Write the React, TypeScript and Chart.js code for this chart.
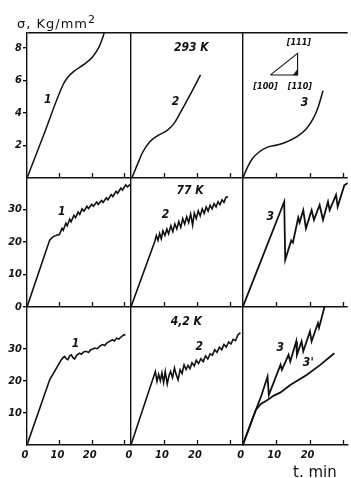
import React, { useEffect, useRef } from 'react';
import { Chart, registerables } from 'chart.js';

Chart.register(...registerables);

// ---------- data (t in min, sigma in Kg/mm^2) ----------
// 293 K
const T1_293 = [0, 5.5, 11.1, 12.6, 14.7, 17.7, 20.3, 22.3, 23.5, 24.2];
const S1_293 = [0, 2.83, 5.72, 6.2, 6.6, 7.0, 7.46, 8.08, 8.7, 9.2];
const T2_293 = [0.3, 2.1, 3.6, 5.6, 8.1, 11.1, 13.1, 14.6, 17.1, 21.1];
const S2_293 = [0, 0.9, 1.6, 2.2, 2.6, 2.95, 3.36, 3.88, 4.8, 6.34];
const T3_293 = [0, 1.5, 2.9, 4.9, 7.4, 10.3, 13.2, 16.2, 19.1, 21.1, 22.6, 24.0];
const S3_293 = [0, 0.7, 1.2, 1.6, 1.9, 2.03, 2.23, 2.54, 3.05, 3.67, 4.39, 5.37];

// 77 K
const T1_77 = [0, 7.0, 8.0, 9.5, 10.0, 10.8, 11.2, 12.0, 12.4, 13.2, 13.6, 14.5, 15.0, 15.8, 16.3, 17.0, 17.6, 18.5, 19.0, 20.0, 20.5, 21.5, 22.0, 23.0, 23.5, 24.5, 25.0, 26.0, 26.5, 27.5, 28.0, 29.0, 29.5, 30.5, 31.0, 32.0];
const S1_77 = [0, 20.6, 21.6, 22.2, 22.3, 24.2, 23.6, 25.8, 25.0, 27.0, 26.2, 28.2, 27.5, 29.2, 28.5, 30.2, 29.5, 31.0, 30.3, 31.6, 31.0, 32.3, 31.6, 32.8, 32.2, 33.6, 33.0, 34.6, 34.0, 35.6, 35.0, 36.6, 36.0, 37.6, 37.0, 37.8];
const T2_77 = [0, 7.2, 7.7, 8.2, 8.7, 9.2, 9.7, 10.3, 10.9, 11.4, 12.1, 12.7, 13.3, 13.9, 14.5, 15.1, 15.7, 16.3, 16.9, 17.5, 18.1, 18.7, 19.2, 19.8, 20.4, 21.0, 21.6, 22.2, 22.8, 23.4, 24.0, 24.6, 25.2, 25.8, 26.4, 27.0, 27.6, 28.2, 28.8, 29.4];
const S2_77 = [0, 20.1, 22.0, 20.5, 22.6, 21.0, 23.4, 22.0, 24.0, 22.5, 25.0, 23.2, 25.6, 24.0, 26.3, 24.5, 27.2, 25.5, 27.8, 26.0, 28.6, 25.2, 28.9, 27.2, 29.6, 28.0, 30.2, 28.8, 30.8, 29.5, 31.3, 30.2, 31.8, 30.8, 32.4, 31.5, 33.0, 32.2, 33.8, 33.9];
const T3_77 = [0, 12.4, 12.7, 14.5, 15.0, 16.6, 17.0, 18.1, 18.9, 20.6, 21.3, 23.0, 24.0, 25.5, 26.0, 27.9, 28.4, 30.4, 31.6];
const S3_77 = [0, 32.4, 14.5, 20.5, 19.8, 27.5, 26.0, 29.8, 24.2, 29.8, 26.8, 31.4, 26.8, 32.4, 29.8, 34.5, 30.9, 37.5, 38.2];

// 4,2 K
const T1_4 = [0, 7.0, 10.6, 11.2, 11.6, 12.2, 12.6, 13.2, 13.7, 14.2, 14.7, 15.4, 16.2, 16.8, 17.5, 18.3, 19.0, 19.6, 20.3, 21.0, 21.7, 22.5, 23.3, 24.0, 24.7, 25.5, 26.4, 27.0, 27.7, 28.4, 29.2, 30.0, 30.4];
const S1_4 = [0, 20.3, 26.6, 27.3, 27.6, 26.8, 26.6, 27.8, 28.1, 27.2, 26.8, 28.0, 28.6, 28.3, 29.0, 29.2, 28.8, 29.6, 29.9, 30.2, 30.0, 30.8, 31.3, 31.0, 31.8, 32.3, 32.8, 32.4, 33.3, 33.0, 33.8, 34.4, 34.2];
const T2_4 = [0, 7.4, 7.9, 8.4, 8.9, 9.4, 9.9, 10.4, 11.0, 11.5, 12.0, 12.6, 13.2, 13.7, 14.3, 14.9, 15.5, 16.1, 16.7, 17.3, 17.9, 18.5, 19.2, 19.8, 20.5, 21.2, 21.9, 22.6, 23.3, 24.0, 24.7, 25.4, 26.1, 26.8, 27.5, 28.2, 28.9, 29.6, 30.3, 31.0, 31.7, 32.4, 33.2];
const S2_4 = [0, 22.9, 19.8, 22.0, 20.0, 22.5, 19.5, 22.9, 19.0, 21.5, 22.9, 21.0, 24.0, 22.0, 20.3, 23.4, 22.3, 25.0, 23.5, 24.8, 23.8, 25.6, 24.6, 26.4, 25.4, 26.9, 26.0, 27.8, 26.8, 28.4, 28.0, 29.7, 28.9, 30.5, 29.7, 31.3, 30.5, 32.1, 31.5, 32.9, 32.5, 34.3, 35.0];
const T3_4 = [0, 3.9, 5.6, 7.4, 7.8, 11.3, 11.7, 13.7, 14.2, 16.0, 16.2, 17.6, 18.1, 20.1, 20.6, 22.5, 22.8, 24.0, 24.6];
const S3_4 = [0, 10.9, 15.5, 21.3, 15.6, 25.0, 23.4, 28.1, 26.0, 32.3, 28.1, 32.3, 29.2, 35.4, 32.3, 38.0, 36.5, 41.2, 43.7];
const T3P_4 = [0, 3.9, 5.4, 7.4, 9.3, 11.3, 14.2, 19.1, 23.0, 27.4];
const S3P_4 = [0, 10.9, 12.8, 14.0, 15.4, 16.4, 18.7, 21.8, 24.8, 28.6];

// crystal orientation triangle (inset, 293 K / column 3)
const TRI_T = [8.3, 16.4, 16.4, 8.3];
const TRI_S = [6.34, 6.34, 7.67, 6.34];
const CORNER_T = [15.2, 16.4, 16.4, 15.2];
const CORNER_S = [6.34, 6.34, 6.68, 6.34];

// axes
const X_MAX = [32.1, 33.9, 31.4];
const X_TICK_LABELS = ['0', '10', '20'];
const Y_MAX = [43.0, 39.7, 8.92]; // 4,2 K ; 77 K ; 293 K
const Y_STEP = [10, 10, 2];
const Y_TICK_LABELS_42 = ['10', '20', '30'];
const Y_TICK_LABELS_77 = ['0', '10', '20', '30'];
const Y_TICK_LABELS_293 = ['2', '4', '6', '8'];
const COL_W = [105, 113, 106];
const ROW_H = [138, 129, 145];

// text labels: [text, xAxis, yAxis, t, sigma, kind]
const LABELS: [string, string, string, number, number, string][] = [
  ['293 K', 'x2', 'y293', 18.3, 8.0, 'state'],
  ['77 K', 'x2', 'y77', 17.9, 35.7, 'state'],
  ['4,2 K', 'x2', 'y42', 16.8, 38.4, 'state'],
  ['1', 'x1', 'y293', 6.4, 4.8, 'curve'],
  ['2', 'x2', 'y293', 13.5, 4.7, 'curve'],
  ['3', 'x3', 'y293', 18.5, 4.6, 'curve'],
  ['1', 'x1', 'y77', 10.7, 29.2, 'curve'],
  ['2', 'x2', 'y77', 10.5, 28.3, 'curve'],
  ['3', 'x3', 'y77', 8.2, 27.7, 'curve'],
  ['1', 'x1', 'y42', 15.0, 31.6, 'curve'],
  ['2', 'x2', 'y42', 20.7, 30.6, 'curve'],
  ['3', 'x3', 'y42', 11.2, 30.3, 'curve'],
  ["3'", 'x3', 'y42', 19.6, 25.6, 'curve'],
  ['[111]', 'x3', 'y293', 16.8, 8.3, 'inset'],
  ['[100]', 'x3', 'y293', 6.8, 5.6, 'inset'],
  ['[110]', 'x3', 'y293', 17.1, 5.6, 'inset'],
];

const INK = '#111';
const NONE = 'rgba(0,0,0,0)';
const ITALIC = '"DejaVu Sans Condensed", "DejaVu Sans", sans-serif';
const FONTS: Record<string, string> = {
  state: `italic bold 12px ${ITALIC}`,
  curve: `italic bold 12px ${ITALIC}`,
  inset: `italic bold 9px ${ITALIC}`,
};

const pts = (T: number[], S: number[]) => T.map((t, i) => ({ x: t, y: S[i] }));

const line = (T: number[], S: number[], xId: string, yId: string, smooth = false, width = 1.6) => ({
  data: pts(T, S),
  xAxisID: xId,
  yAxisID: yId,
  showLine: true,
  borderColor: INK,
  backgroundColor: INK,
  borderWidth: width,
  pointRadius: 0,
  tension: 0,
  cubicInterpolationMode: smooth ? 'monotone' : 'default',
  clip: 0,
  fill: false,
});

const annotate = {
  id: 'annotate',
  afterDatasetsDraw(chart: any) {
    const ctx = chart.ctx;
    const area = chart.chartArea;
    ctx.save();
    ctx.fillStyle = INK;
    ctx.strokeStyle = INK;
    ctx.textAlign = 'center';
    ctx.textBaseline = 'middle';
    for (const [text, xs, ys, t, s, kind] of LABELS) {
      ctx.font = FONTS[kind];
      ctx.fillText(text, chart.scales[xs].getPixelForValue(t), chart.scales[ys].getPixelForValue(s));
    }
    // inner tick marks (pointing up into each panel)
    ctx.lineWidth = 1.3;
    for (const xs of ['x1', 'x2', 'x3']) {
      const sc = chart.scales[xs];
      for (const v of [10, 20, 30]) {
        if (v > sc.max) continue;
        const px = Math.round(sc.getPixelForValue(v)) + 0.5;
        for (const ys of ['y293', 'y77', 'y42']) {
          const b = chart.scales[ys].bottom;
          ctx.beginPath();
          ctx.moveTo(px, b);
          ctx.lineTo(px, b - 5);
          ctx.stroke();
        }
      }
    }
    // axis titles
    ctx.textAlign = 'left';
    ctx.textBaseline = 'alphabetic';
    ctx.font = '13px "DejaVu Sans", sans-serif';
    (ctx as any).letterSpacing = '1px';
    const tx = area.left - 10;
    const ty = area.top - 5;
    ctx.fillText('σ, Kg/mm', tx, ty);
    const w = ctx.measureText('σ, Kg/mm').width;
    ctx.font = '11px "DejaVu Sans", sans-serif';
    ctx.fillText('2', tx + w, ty - 5);
    (ctx as any).letterSpacing = '0px';
    ctx.textAlign = 'right';
    ctx.font = '15px "DejaVu Sans", sans-serif';
    ctx.fillText('t. min', chart.scales.x3.right - 11, chart.height - 1);
    ctx.restore();
  },
};

const tickFont = { family: ITALIC, style: 'italic' as const, weight: 'bold' as const, size: 11 };

function xScale(i: number) {
  return {
    type: 'linear',
    position: 'bottom',
    stack: 'cols',
    stackWeight: COL_W[i],
    weight: i + 1,
    min: 0,
    max: X_MAX[i],
    afterFit: (s: any) => {
      s.height = 33;
    },
    border: { display: true, color: INK, width: 1.4 },
    grid: {
      drawTicks: false,
      drawOnChartArea: i > 0,
      lineWidth: 1.4,
      color: (c: any) => (c.tick && c.tick.value === 0 ? INK : NONE),
    },
    ticks: {
      stepSize: 10,
      includeBounds: false,
      autoSkip: false,
      maxRotation: 0,
      padding: 4,
      labelOffset: -2,
      color: INK,
      font: tickFont,
      callback: (v: number) => (X_TICK_LABELS.includes(String(v)) ? String(v) : ''),
    },
  };
}

function yScale(j: number) {
  const labels = [Y_TICK_LABELS_42, Y_TICK_LABELS_77, Y_TICK_LABELS_293][j];
  return {
    type: 'linear',
    position: 'left',
    stack: 'rows',
    stackWeight: ROW_H[j],
    weight: j + 1,
    min: 0,
    max: Y_MAX[j],
    afterFit: (s: any) => {
      s.width = 27;
    },
    afterBuildTicks:
      j === 2
        ? (s: any) => {
            s.ticks.push({ value: s.max });
          }
        : undefined,
    border: { display: true, color: INK, width: 1.4 },
    grid: {
      drawTicks: true,
      tickLength: 4,
      lineWidth: 1.4,
      color: (c: any) =>
        c.tick && ((c.tick.value === 0 && j > 0) || c.tick.value === Y_MAX[j]) ? INK : NONE,
      tickColor: (c: any) => (c.tick && labels.includes(String(c.tick.value)) ? INK : NONE),
    },
    ticks: {
      stepSize: Y_STEP[j],
      includeBounds: false,
      autoSkip: false,
      padding: 1,
      color: INK,
      font: tickFont,
      callback: (v: number) => (labels.includes(String(v)) ? String(v) : ''),
    },
  };
}

export default function App() {
  const ref = useRef<HTMLCanvasElement | null>(null);
  useEffect(() => {
    if (!ref.current) return;
    const chart = new Chart(ref.current, {
      type: 'scatter',
      data: {
        datasets: [
          line(T1_293, S1_293, 'x1', 'y293', true, 1.5),
          line(T2_293, S2_293, 'x2', 'y293', true, 1.5),
          line(T3_293, S3_293, 'x3', 'y293', true, 1.5),
          line(T1_77, S1_77, 'x1', 'y77'),
          line(T2_77, S2_77, 'x2', 'y77'),
          line(T3_77, S3_77, 'x3', 'y77', false, 1.8),
          line(T1_4, S1_4, 'x1', 'y42'),
          line(T2_4, S2_4, 'x2', 'y42'),
          line(T3_4, S3_4, 'x3', 'y42', false, 1.8),
          line(T3P_4, S3P_4, 'x3', 'y42', false, 1.8),
          line(TRI_T, TRI_S, 'x3', 'y293', false, 1.1),
          { ...line(CORNER_T, CORNER_S, 'x3', 'y293', false, 0.8), fill: 'shape' },
        ] as any,
      },
      options: {
        responsive: false,
        animation: false,
        devicePixelRatio: 1,
        layout: { padding: { top: 33, left: 0, right: 0, bottom: 0 } },
        plugins: { legend: { display: false }, tooltip: { enabled: false }, title: { display: false } },
        events: [],
        scales: {
          x1: xScale(0),
          x2: xScale(1),
          x3: xScale(2),
          y42: yScale(0),
          y77: yScale(1),
          y293: yScale(2),
        } as any,
      },
      plugins: [annotate],
    });
    return () => chart.destroy();
  }, []);
  return (
    <div style={{ position: 'fixed', left: 0, top: 0, width: 351, height: 478, background: '#fff' }}>
      <canvas ref={ref} width={351} height={478} style={{ display: 'block' }} />
    </div>
  );
}
